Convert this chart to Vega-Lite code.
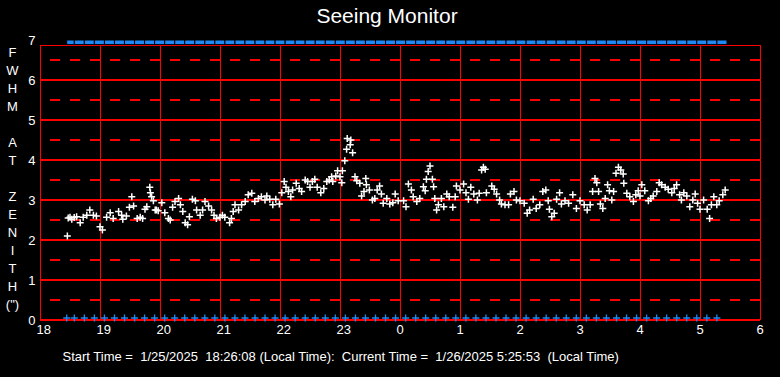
{
  "$schema": "https://vega.github.io/schema/vega-lite/v6.json",
  "width": 720,
  "height": 280,
  "autosize": "none",
  "padding": {"left": 40, "top": 40, "right": 20, "bottom": 57},
  "background": "#000000",
  "config": {
    "view": {"stroke": null},
    "axisX": {
      "tickCount": 12,
      "labelExpr": "datum.value >= 24 ? datum.value - 24 : datum.value",
      "domain": false, "ticks": false, "grid": false,
      "labelColor": "#FFFFFF", "labelFont": "Liberation Sans", "labelFontSize": 13,
      "labelAlign": "left", "labelOffset": -4, "labelPadding": 3, "labelBaseline": "top", "labelFlush": false, "labelOverlap": false,
      "titleColor": "#FFFFFF", "titleFont": "Liberation Sans", "titleFontSize": 13, "titleFontWeight": "normal",
      "titleX": 22, "titleY": 40, "titleAlign": "left", "titleBaseline": "alphabetic"
    },
    "axisY": {
      "tickCount": 7,
      "domain": false, "ticks": false, "grid": false,
      "labelColor": "#FFFFFF", "labelFont": "Liberation Sans", "labelFontSize": 13,
      "labelPadding": 5, "labelFlush": false, "labelOverlap": false,
      "titleColor": "#FFFFFF", "titleFont": "Liberation Sans", "titleFontSize": 13, "titleFontWeight": "normal",
      "titleAngle": 0, "titleX": -28, "titleY": 6, "titleAlign": "center", "titleBaseline": "top", "titleLineHeight": 18
    }
  },
  "title": {"text": "Seeing Monitor", "color": "#FFFFFF", "font": "Liberation Sans", "fontSize": 21, "fontWeight": "normal", "anchor": "middle", "dx": -13, "dy": 22, "offset": 12, "baseline": "alphabetic"},
  "datasets": {
    "half": [{"v": 0.5}, {"v": 1.5}, {"v": 2.5}, {"v": 3.5}, {"v": 4.5}, {"v": 5.5}, {"v": 6.5}],
    "whole": [{"v": 0}, {"v": 1}, {"v": 2}, {"v": 3}, {"v": 4}, {"v": 5}, {"v": 6}],
    "hours": [{"t": 18}, {"t": 19}, {"t": 20}, {"t": 21}, {"t": 22}, {"t": 23}, {"t": 24}, {"t": 25}, {"t": 26}, {"t": 27}, {"t": 28}, {"t": 29}, {"t": 30}],
    "blue": [
      {"t": 18.445, "t2": 18.572}, {"t": 18.572, "t2": 18.739}, {"t": 18.739, "t2": 18.906}, {"t": 18.906, "t2": 19.074}, {"t": 19.074, "t2": 19.241},
      {"t": 19.241, "t2": 19.408}, {"t": 19.408, "t2": 19.576}, {"t": 19.576, "t2": 19.743}, {"t": 19.743, "t2": 19.910}, {"t": 19.910, "t2": 20.078},
      {"t": 20.078, "t2": 20.245}, {"t": 20.245, "t2": 20.412}, {"t": 20.412, "t2": 20.580}, {"t": 20.580, "t2": 20.747}, {"t": 20.747, "t2": 20.914},
      {"t": 20.914, "t2": 21.082}, {"t": 21.082, "t2": 21.249}, {"t": 21.249, "t2": 21.416}, {"t": 21.416, "t2": 21.584}, {"t": 21.584, "t2": 21.751},
      {"t": 21.751, "t2": 21.918}, {"t": 21.918, "t2": 22.086}, {"t": 22.086, "t2": 22.253}, {"t": 22.253, "t2": 22.420}, {"t": 22.420, "t2": 22.588},
      {"t": 22.588, "t2": 22.755}, {"t": 22.755, "t2": 22.922}, {"t": 22.922, "t2": 23.090}, {"t": 23.090, "t2": 23.257}, {"t": 23.257, "t2": 23.424},
      {"t": 23.424, "t2": 23.592}, {"t": 23.592, "t2": 23.759}, {"t": 23.759, "t2": 23.926}, {"t": 23.926, "t2": 24.094}, {"t": 24.094, "t2": 24.261},
      {"t": 24.261, "t2": 24.428}, {"t": 24.428, "t2": 24.596}, {"t": 24.596, "t2": 24.763}, {"t": 24.763, "t2": 24.930}, {"t": 24.930, "t2": 25.098},
      {"t": 25.098, "t2": 25.265}, {"t": 25.265, "t2": 25.432}, {"t": 25.432, "t2": 25.600}, {"t": 25.600, "t2": 25.767}, {"t": 25.767, "t2": 25.934},
      {"t": 25.934, "t2": 26.102}, {"t": 26.102, "t2": 26.269}, {"t": 26.269, "t2": 26.436}, {"t": 26.436, "t2": 26.604}, {"t": 26.604, "t2": 26.771},
      {"t": 26.771, "t2": 26.938}, {"t": 26.938, "t2": 27.106}, {"t": 27.106, "t2": 27.273}, {"t": 27.273, "t2": 27.440}, {"t": 27.440, "t2": 27.608},
      {"t": 27.608, "t2": 27.775}, {"t": 27.775, "t2": 27.942}, {"t": 27.942, "t2": 28.110}, {"t": 28.110, "t2": 28.277}, {"t": 28.277, "t2": 28.444},
      {"t": 28.444, "t2": 28.612}, {"t": 28.612, "t2": 28.779}, {"t": 28.779, "t2": 28.946}, {"t": 28.946, "t2": 29.114}, {"t": 29.114, "t2": 29.281},
      {"t": 29.281, "t2": 29.450}
    ],
    "seeing": [
      {"t": 18.456, "v": 2.10}, {"t": 18.47, "v": 2.55}, {"t": 18.50, "v": 2.57}, {"t": 18.53, "v": 2.52}, {"t": 18.57, "v": 2.56},
      {"t": 18.61, "v": 2.58}, {"t": 18.67, "v": 2.43}, {"t": 18.72, "v": 2.57}, {"t": 18.78, "v": 2.62}, {"t": 18.83, "v": 2.75},
      {"t": 18.89, "v": 2.62}, {"t": 18.94, "v": 2.60}, {"t": 19.00, "v": 2.33}, {"t": 19.04, "v": 2.25}, {"t": 19.11, "v": 2.57},
      {"t": 19.17, "v": 2.68}, {"t": 19.22, "v": 2.54}, {"t": 19.31, "v": 2.71}, {"t": 19.36, "v": 2.62}, {"t": 19.38, "v": 2.52},
      {"t": 19.44, "v": 2.60}, {"t": 19.49, "v": 2.82}, {"t": 19.53, "v": 3.08}, {"t": 19.56, "v": 2.85}, {"t": 19.62, "v": 2.54},
      {"t": 19.67, "v": 2.57}, {"t": 19.71, "v": 2.54}, {"t": 19.75, "v": 2.77}, {"t": 19.78, "v": 2.83}, {"t": 19.83, "v": 3.32},
      {"t": 19.84, "v": 3.18}, {"t": 19.86, "v": 3.08}, {"t": 19.89, "v": 2.98}, {"t": 19.92, "v": 2.75}, {"t": 19.94, "v": 2.75},
      {"t": 19.97, "v": 2.73}, {"t": 20.03, "v": 2.93}, {"t": 20.08, "v": 2.68}, {"t": 20.14, "v": 2.54}, {"t": 20.17, "v": 2.50},
      {"t": 20.21, "v": 2.82}, {"t": 20.25, "v": 2.96}, {"t": 20.31, "v": 3.04}, {"t": 20.34, "v": 2.88}, {"t": 20.38, "v": 2.71},
      {"t": 20.42, "v": 2.43}, {"t": 20.46, "v": 2.38}, {"t": 20.49, "v": 2.58}, {"t": 20.54, "v": 3.02}, {"t": 20.59, "v": 2.98},
      {"t": 20.61, "v": 2.75}, {"t": 20.67, "v": 2.62}, {"t": 20.71, "v": 2.75}, {"t": 20.75, "v": 2.96}, {"t": 20.81, "v": 2.85},
      {"t": 20.86, "v": 2.75}, {"t": 20.90, "v": 2.62}, {"t": 20.94, "v": 2.54}, {"t": 21.00, "v": 2.57},
      {"t": 21.04, "v": 2.62}, {"t": 21.08, "v": 2.57}, {"t": 21.16, "v": 2.43}, {"t": 21.19, "v": 2.54}, {"t": 21.22, "v": 2.71},
      {"t": 21.25, "v": 2.88}, {"t": 21.31, "v": 2.75}, {"t": 21.36, "v": 2.88}, {"t": 21.42, "v": 2.96}, {"t": 21.47, "v": 3.13},
      {"t": 21.53, "v": 3.17}, {"t": 21.58, "v": 2.96}, {"t": 21.64, "v": 3.04}, {"t": 21.69, "v": 3.08}, {"t": 21.75, "v": 3.00},
      {"t": 21.78, "v": 3.10}, {"t": 21.83, "v": 3.02}, {"t": 21.88, "v": 2.88}, {"t": 21.93, "v": 3.02}, {"t": 21.99, "v": 2.90},
      {"t": 22.03, "v": 3.18}, {"t": 22.07, "v": 3.46}, {"t": 22.10, "v": 3.32}, {"t": 22.14, "v": 3.21}, {"t": 22.18, "v": 3.08},
      {"t": 22.21, "v": 3.25}, {"t": 22.27, "v": 3.42}, {"t": 22.32, "v": 3.29}, {"t": 22.36, "v": 3.21}, {"t": 22.42, "v": 3.50},
      {"t": 22.46, "v": 3.46}, {"t": 22.50, "v": 3.32}, {"t": 22.54, "v": 3.46}, {"t": 22.58, "v": 3.52}, {"t": 22.62, "v": 3.32},
      {"t": 22.68, "v": 3.18}, {"t": 22.73, "v": 3.29}, {"t": 22.78, "v": 3.46}, {"t": 22.82, "v": 3.50}, {"t": 22.86, "v": 3.58},
      {"t": 22.88, "v": 3.46}, {"t": 22.93, "v": 3.60}, {"t": 22.96, "v": 3.73}, {"t": 23.00, "v": 3.58}, {"t": 23.03, "v": 3.43},
      {"t": 23.04, "v": 3.73}, {"t": 23.08, "v": 3.98}, {"t": 23.11, "v": 4.27}, {"t": 23.12, "v": 4.54}, {"t": 23.17, "v": 4.38},
      {"t": 23.18, "v": 4.50}, {"t": 23.21, "v": 4.18}, {"t": 23.25, "v": 3.58}, {"t": 23.28, "v": 3.48}, {"t": 23.33, "v": 3.42},
      {"t": 23.36, "v": 3.10}, {"t": 23.40, "v": 3.21}, {"t": 23.43, "v": 3.54}, {"t": 23.44, "v": 3.38}, {"t": 23.49, "v": 3.25},
      {"t": 23.54, "v": 3.00}, {"t": 23.58, "v": 3.04}, {"t": 23.62, "v": 3.25}, {"t": 23.66, "v": 3.35}, {"t": 23.69, "v": 3.15},
      {"t": 23.72, "v": 2.92}, {"t": 23.78, "v": 3.04}, {"t": 23.83, "v": 2.90},
      {"t": 23.88, "v": 2.93}, {"t": 23.92, "v": 3.15}, {"t": 23.97, "v": 2.98}, {"t": 24.06, "v": 2.98}, {"t": 24.10, "v": 2.83},
      {"t": 24.14, "v": 3.40}, {"t": 24.19, "v": 3.25}, {"t": 24.22, "v": 3.08}, {"t": 24.28, "v": 2.96}, {"t": 24.33, "v": 3.04},
      {"t": 24.39, "v": 3.33}, {"t": 24.42, "v": 3.23}, {"t": 24.44, "v": 3.52}, {"t": 24.47, "v": 3.71}, {"t": 24.50, "v": 3.85},
      {"t": 24.54, "v": 3.52}, {"t": 24.56, "v": 3.33}, {"t": 24.58, "v": 3.04}, {"t": 24.61, "v": 2.75}, {"t": 24.64, "v": 2.88},
      {"t": 24.69, "v": 3.04}, {"t": 24.73, "v": 2.83}, {"t": 24.78, "v": 3.15}, {"t": 24.82, "v": 3.08}, {"t": 24.88, "v": 2.82},
      {"t": 24.92, "v": 3.08}, {"t": 24.94, "v": 3.35}, {"t": 25.00, "v": 3.25}, {"t": 25.06, "v": 3.40}, {"t": 25.10, "v": 3.18},
      {"t": 25.14, "v": 3.02}, {"t": 25.18, "v": 3.32}, {"t": 25.23, "v": 3.15}, {"t": 25.29, "v": 3.00}, {"t": 25.32, "v": 3.17},
      {"t": 25.36, "v": 3.75}, {"t": 25.39, "v": 3.82}, {"t": 25.42, "v": 3.77}, {"t": 25.44, "v": 3.18}, {"t": 25.53, "v": 3.35},
      {"t": 25.57, "v": 3.27}, {"t": 25.61, "v": 3.15}, {"t": 25.66, "v": 3.00}, {"t": 25.69, "v": 2.90}, {"t": 25.75, "v": 2.88},
      {"t": 25.81, "v": 2.88}, {"t": 25.84, "v": 3.15}, {"t": 25.90, "v": 3.21}, {"t": 25.94, "v": 3.00}, {"t": 26.00, "v": 2.98},
      {"t": 26.07, "v": 2.92}, {"t": 26.12, "v": 2.67}, {"t": 26.16, "v": 2.75}, {"t": 26.22, "v": 3.02}, {"t": 26.27, "v": 2.79},
      {"t": 26.33, "v": 2.88}, {"t": 26.38, "v": 3.21}, {"t": 26.43, "v": 3.25}, {"t": 26.47, "v": 2.98}, {"t": 26.49, "v": 2.77},
      {"t": 26.53, "v": 2.58}, {"t": 26.57, "v": 2.67}, {"t": 26.61, "v": 3.02}, {"t": 26.66, "v": 3.18},
      {"t": 26.69, "v": 2.90}, {"t": 26.75, "v": 2.98}, {"t": 26.81, "v": 2.92}, {"t": 26.88, "v": 3.13}, {"t": 26.94, "v": 2.79},
      {"t": 27.00, "v": 2.98}, {"t": 27.07, "v": 2.88}, {"t": 27.12, "v": 2.75}, {"t": 27.17, "v": 2.88}, {"t": 27.21, "v": 3.21},
      {"t": 27.25, "v": 3.54}, {"t": 27.28, "v": 3.43}, {"t": 27.31, "v": 3.21}, {"t": 27.34, "v": 2.90}, {"t": 27.38, "v": 2.79},
      {"t": 27.42, "v": 3.04}, {"t": 27.46, "v": 3.38}, {"t": 27.49, "v": 3.23}, {"t": 27.53, "v": 3.00}, {"t": 27.56, "v": 3.21},
      {"t": 27.60, "v": 3.67}, {"t": 27.64, "v": 3.82}, {"t": 27.68, "v": 3.75}, {"t": 27.72, "v": 3.65}, {"t": 27.73, "v": 3.42},
      {"t": 27.78, "v": 3.17}, {"t": 27.83, "v": 3.08}, {"t": 27.89, "v": 2.96}, {"t": 27.93, "v": 3.13}, {"t": 27.97, "v": 3.23},
      {"t": 28.00, "v": 3.10}, {"t": 28.03, "v": 3.38}, {"t": 28.08, "v": 3.23}, {"t": 28.14, "v": 2.98}, {"t": 28.18, "v": 3.04},
      {"t": 28.22, "v": 3.10}, {"t": 28.28, "v": 3.21}, {"t": 28.32, "v": 3.43}, {"t": 28.36, "v": 3.38}, {"t": 28.42, "v": 3.32},
      {"t": 28.47, "v": 3.27}, {"t": 28.53, "v": 3.18}, {"t": 28.57, "v": 3.29}, {"t": 28.61, "v": 3.38}, {"t": 28.66, "v": 3.13},
      {"t": 28.69, "v": 3.00}, {"t": 28.73, "v": 3.18}, {"t": 28.78, "v": 3.10}, {"t": 28.83, "v": 2.83}, {"t": 28.88, "v": 3.00},
      {"t": 28.92, "v": 3.15}, {"t": 28.96, "v": 2.92}, {"t": 29.00, "v": 2.77}, {"t": 29.06, "v": 3.00}, {"t": 29.12, "v": 2.77},
      {"t": 29.16, "v": 2.54}, {"t": 29.19, "v": 2.88}, {"t": 29.23, "v": 3.08}, {"t": 29.28, "v": 2.88}, {"t": 29.32, "v": 2.98},
      {"t": 29.38, "v": 3.13}, {"t": 29.42, "v": 3.25}
    ]
  },
  "layer": [
    {
      "data": {"name": "half"},
      "mark": {"type": "rule", "color": "#FF0000", "strokeWidth": 2, "strokeDash": [10, 10]},
      "encoding": {"y": {"field": "v", "type": "quantitative"}}
    },
    {
      "data": {"name": "whole"},
      "mark": {"type": "rule", "color": "#FF0000", "strokeWidth": 2},
      "encoding": {"y": {"field": "v", "type": "quantitative"}}
    },
    {
      "data": {"name": "hours"},
      "mark": {"type": "rule", "color": "#FF0000", "strokeWidth": 1, "xOffset": 0.5},
      "encoding": {"x": {"field": "t", "type": "quantitative"}, "y": {"datum": 0}, "y2": {"datum": 6.875}}
    },
    {
      "data": {"values": [{"v": 6.875}]},
      "mark": {"type": "rule", "color": "#FF0000", "strokeWidth": 1, "yOffset": 0.5},
      "encoding": {"y": {"field": "v", "type": "quantitative"}}
    },
    {
      "data": {"name": "blue"},
      "mark": {"type": "rect", "color": "#1E88F5", "stroke": "#000000", "strokeWidth": 1},
      "encoding": {"x": {"field": "t", "type": "quantitative"}, "x2": {"field": "t2"}, "y": {"datum": 7.0}, "y2": {"datum": 6.885}}
    },
    {
      "data": {"name": "blue"},
      "mark": {"type": "point", "shape": "M-1,0H1M0,-1V1", "filled": false, "stroke": "#1E88F5", "strokeWidth": 1.3, "size": 49, "opacity": 1},
      "encoding": {"x": {"field": "t", "type": "quantitative"}, "y": {"datum": 0.05}}
    },
    {
      "data": {"name": "seeing"},
      "mark": {"type": "point", "shape": "M-1,0H1M0,-1V1", "filled": false, "stroke": "#FFFFFF", "strokeWidth": 1.5, "size": 49, "opacity": 1},
      "encoding": {
        "x": {
          "field": "t", "type": "quantitative",
          "scale": {"domain": [18, 30], "nice": false, "zero": false},
          "axis": {"title": "Start Time =\u00a0 1/25/2025\u00a0 18:26:08 (Local Time):\u00a0 Current Time =\u00a0 1/26/2025 5:25:53\u00a0 (Local Time)"}
        },
        "y": {
          "field": "v", "type": "quantitative",
          "scale": {"domain": [0, 7], "nice": false, "zero": false},
          "axis": {"title": ["F", "W", "H", "M", "\u2800", "A", "T", "\u2800", "Z", "E", "N", "I", "T", "H", "(\")"]}
        }
      }
    }
  ]
}
